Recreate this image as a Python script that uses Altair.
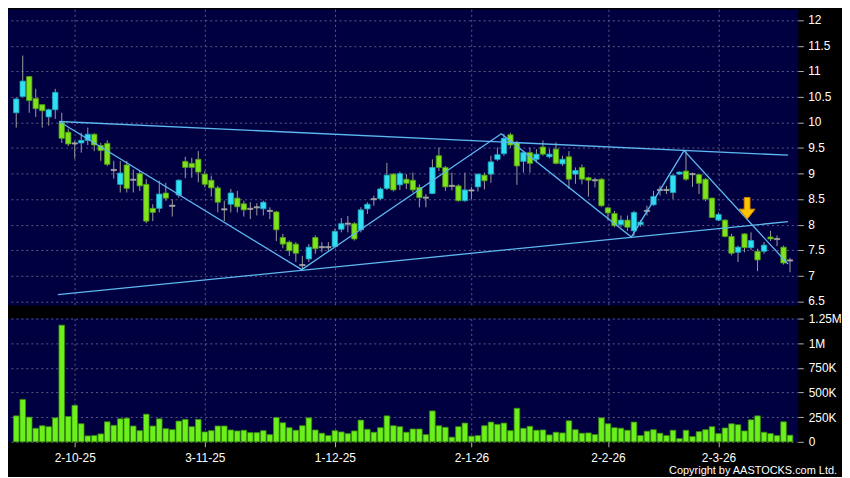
import altair as alt
import pandas as pd

# ---- data (index 1..120 = trading days) ----
opens = [10.19, 10.51, 10.90, 10.47, 10.35, 10.11, 10.25, 10.00, 9.81, 9.59,
         9.60, 9.65, 9.77, 9.55, 9.59, 9.07, 8.79, 9.17, 8.88, 9.00,
         8.79, 8.32, 8.32, 8.62, 8.37, 8.58, 9.24, 9.20, 9.28, 8.99,
         8.87, 8.72, 8.30, 8.40, 8.52, 8.41, 8.31, 8.34, 8.31, 8.27,
         8.25, 7.75, 7.66, 7.62, 7.21, 7.33, 7.75, 7.56, 7.56, 7.57,
         7.91, 8.02, 8.02, 7.90, 8.31, 8.50, 8.51, 8.71, 8.99, 8.78,
         8.89, 8.87, 8.73, 8.53, 8.61, 9.35, 9.12, 8.76, 8.76, 8.47,
         8.67, 8.74, 8.97, 8.99, 9.28, 9.39, 9.76, 9.61, 9.24, 9.41,
         9.28, 9.52, 9.33, 9.48, 9.19, 9.33, 8.99, 9.12, 8.92, 8.87,
         8.89, 8.33, 8.22, 8.00, 8.09, 7.88, 8.00, 8.27, 8.39, 8.68,
         8.68, 8.63, 8.99, 9.05, 8.99, 8.98, 8.89, 8.52, 8.09, 8.09,
         7.77, 7.46, 7.82, 7.55, 7.48, 7.48, 7.76, 7.72, 7.56, 7.30]
highs = [10.49, 11.31, 10.90, 10.66, 10.35, 10.27, 10.66, 10.19, 9.88, 9.64,
         9.80, 9.90, 9.79, 9.60, 9.65, 9.25, 9.25, 9.25, 9.08, 9.05,
         8.89, 8.40, 8.86, 8.82, 8.50, 8.89, 9.33, 9.31, 9.44, 9.05,
         8.96, 8.76, 8.47, 8.70, 8.66, 8.47, 8.44, 8.42, 8.47, 8.34,
         8.27, 7.82, 7.69, 7.66, 7.39, 7.62, 7.79, 7.66, 7.66, 7.92,
         8.13, 8.17, 8.05, 8.34, 8.44, 8.57, 8.73, 9.21, 9.01, 9.04,
         8.99, 9.02, 8.79, 8.60, 9.28, 9.51, 9.15, 9.02, 8.79, 9.02,
         8.74, 9.00, 9.02, 9.35, 9.51, 9.78, 9.80, 9.64, 9.44, 9.51,
         9.48, 9.65, 9.48, 9.61, 9.35, 9.44, 9.12, 9.18, 8.94, 8.92,
         8.91, 8.35, 8.27, 8.18, 8.18, 8.27, 8.09, 8.37, 8.66, 8.76,
         8.76, 8.99, 9.04, 9.46, 9.02, 8.99, 8.91, 8.53, 8.24, 8.11,
         7.82, 7.59, 7.83, 7.85, 7.53, 7.66, 7.88, 7.79, 7.59, 7.35]
lows = [9.90, 10.50, 10.19, 10.11, 9.90, 9.94, 10.07, 9.60, 9.54, 9.29,
        9.41, 9.56, 9.44, 9.25, 9.15, 8.90, 8.63, 8.63, 8.63, 8.66,
        8.03, 8.07, 8.24, 8.47, 8.16, 8.53, 8.91, 8.92, 8.83, 8.73,
        8.55, 8.24, 8.07, 8.24, 8.24, 8.16, 8.11, 8.18, 8.18, 8.11,
        7.68, 7.54, 7.39, 7.27, 7.12, 7.27, 7.43, 7.46, 7.47, 7.56,
        7.85, 7.85, 7.69, 7.85, 8.21, 8.37, 8.48, 8.68, 8.65, 8.68,
        8.70, 8.63, 8.34, 8.34, 8.60, 9.05, 8.66, 8.67, 8.45, 8.45,
        8.50, 8.65, 8.69, 8.82, 9.25, 9.35, 9.51, 8.78, 9.02, 9.02,
        9.22, 9.35, 9.30, 9.18, 9.15, 8.70, 8.80, 8.79, 8.55, 8.73,
        8.35, 8.08, 7.95, 7.95, 7.88, 7.78, 7.96, 8.18, 8.37, 8.57,
        8.60, 8.50, 8.98, 8.86, 8.74, 8.60, 8.46, 8.13, 8.07, 7.75,
        7.40, 7.27, 7.46, 7.50, 7.09, 7.43, 7.68, 7.58, 7.22, 7.07]
closes = [10.46, 10.81, 10.43, 10.27, 10.23, 10.25, 10.59, 9.69, 9.58, 9.59,
          9.65, 9.77, 9.56, 9.45, 9.18, 9.07, 9.01, 8.71, 8.88, 8.76,
          8.07, 8.24, 8.60, 8.52, 8.37, 8.87, 9.12, 9.12, 9.03, 8.79,
          8.72, 8.44, 8.30, 8.62, 8.35, 8.29, 8.31, 8.34, 8.44, 8.27,
          7.90, 7.62, 7.49, 7.44, 7.21, 7.56, 7.53, 7.56, 7.56, 7.87,
          8.02, 8.02, 7.72, 8.29, 8.40, 8.50, 8.70, 8.97, 8.68, 9.00,
          8.81, 8.68, 8.53, 8.53, 9.12, 9.12, 8.74, 8.76, 8.47, 8.68,
          8.67, 8.99, 8.86, 9.23, 9.37, 9.69, 9.56, 9.15, 9.41, 9.20,
          9.38, 9.38, 9.38, 9.20, 9.28, 8.89, 9.06, 8.89, 8.87, 8.87,
          8.37, 8.23, 7.98, 8.09, 7.95, 8.24, 8.05, 8.27, 8.55, 8.68,
          8.68, 8.96, 9.03, 8.89, 8.99, 8.81, 8.50, 8.14, 8.20, 7.77,
          7.44, 7.56, 7.55, 7.69, 7.31, 7.60, 7.72, 7.72, 7.25, 7.30]
volumes_k = [263, 430, 250, 137, 163, 153, 243, 1183, 257, 370,
             183, 60, 63, 80, 203, 167, 233, 240, 160, 113,
             280, 160, 233, 133, 123, 210, 227, 153, 227, 100,
             113, 160, 160, 120, 110, 117, 93, 93, 113, 73,
             247, 193, 143, 117, 163, 243, 120, 87, 63, 113,
             100, 83, 110, 220, 127, 97, 143, 263, 163, 153,
             97, 130, 130, 73, 313, 163, 147, 47, 153, 190,
             57, 63, 163, 200, 177, 190, 113, 340, 137, 157,
             117, 120, 70, 97, 90, 213, 123, 87, 90, 73,
             243, 183, 143, 137, 117, 200, 63, 107, 123, 87,
             63, 117, 33, 117, 53, 103, 123, 153, 83, 140,
             183, 173, 110, 223, 263, 97, 83, 63, 203, 67]

tick_index = [10, 30, 50, 71, 92, 109]
tick_labels = ["2-10-25", "3-11-25", "1-12-25", "2-1-26", "2-2-26", "2-3-26"]
price_ticks = [6.5, 7, 7.5, 8, 8.5, 9, 9.5, 10, 10.5, 11, 11.5, 12]
vol_ticks = [0, 250000, 500000, 750000, 1000000, 1250000]

# trend lines drawn on the chart (index, price)
upper_x = [7.6, 119.7]
upper_y = [10.02, 9.36]
lower_x = [7.4, 119.7]
lower_y = [6.63, 8.06]
zig_x = [7.6, 44.9, 75.6, 95.6, 103.7, 119.7]
zig_y = [10.02, 7.12, 9.78, 7.76, 9.45, 7.23]
arrow_x = [113.4]
arrow_y = [8.32]

copyright_text = "Copyright by AASTOCKS.com Ltd."

# ---- tables ----
n = len(opens)
rows = []
for k in range(n):
    o, c = opens[k], closes[k]
    if c > o:
        d = "up"
    elif c < o:
        d = "down"
    else:
        d = "flat"
    top = max(o, c) if d != "flat" else o + 0.011
    bot = min(o, c) if d != "flat" else o - 0.011
    rows.append({"i": k + 1, "open": o, "high": highs[k], "low": lows[k],
                 "close": c, "dir": d, "btop": top, "bbot": bot,
                 "vol": volumes_k[k] * 1000})
df = pd.DataFrame(rows)

lines = pd.DataFrame(
    [{"i": x, "p": y, "g": "upper"} for x, y in zip(upper_x, upper_y)]
    + [{"i": x, "p": y, "g": "lower"} for x, y in zip(lower_x, lower_y)]
    + [{"i": x, "p": y, "g": "zig"} for x, y in zip(zig_x, zig_y)]
)
arrow_df = pd.DataFrame({"i": arrow_x, "p": arrow_y})
ptick_df = pd.DataFrame({"p": price_ticks,
                         "lab": [("%g" % v) for v in price_ticks]})

# ---- scales / axes ----
W = 795
xs = alt.Scale(domain=[0.5, 120.5], nice=False, zero=False)
ys = alt.Scale(domain=[6.416, 12.214], nice=False, zero=False)
vs = alt.Scale(domain=[0, 1250000], nice=False, zero=True)

label_expr = ""
for idx, lab in zip(tick_index, tick_labels):
    label_expr += f"datum.value == {idx} ? '{lab}' : "
label_expr += "''"

grid_kw = dict(grid=True, gridColor="#5c5c84", gridDash=[2, 3], gridWidth=1)

x_axis_price = alt.Axis(values=tick_index, labels=False, ticks=False,
                        domain=False, title=None, **grid_kw)
y_axis_price = alt.Axis(orient="right", values=price_ticks, labels=False,
                        title=None, domain=False, tickSize=5, **grid_kw)
x_axis_vol = alt.Axis(values=tick_index, labelExpr=label_expr, title=None,
                      domain=False, tickSize=5, labelPadding=6, labelAngle=0,
                      labelOverlap=False, **grid_kw)
y_axis_vol = alt.Axis(orient="right", values=vol_ticks,
                      labelExpr="datum.value == 0 ? '0' : replace(format(datum.value, '~s'), 'k', 'K')",
                      title=None, domain=False, tickSize=5, labelPadding=5,
                      labelOverlap=False, **grid_kw)

color_scale = alt.Scale(domain=["up", "down", "flat"],
                        range=["#30dff0", "#7ee21c", "#a6a6a6"])
stroke_scale = alt.Scale(domain=["up", "down", "flat"],
                         range=["#1ba9c4", "#4f9c12", "#a6a6a6"])

PX = alt.X("i:Q", scale=xs, axis=x_axis_price)

base = alt.Chart(df)

wicks = base.mark_rule(color="#9c9c9c", strokeWidth=1).encode(
    x=PX,
    y=alt.Y("low:Q", scale=ys, axis=y_axis_price),
    y2="high:Q",
)
bodies = base.mark_bar(size=5.4, strokeWidth=0.8).encode(
    x=PX,
    y=alt.Y("btop:Q", scale=ys, axis=y_axis_price),
    y2="bbot:Q",
    color=alt.Color("dir:N", scale=color_scale, legend=None),
    stroke=alt.Stroke("dir:N", scale=stroke_scale, legend=None),
)
trend = alt.Chart(lines).mark_line(color="#5cb8f0", strokeWidth=1.3).encode(
    x=PX,
    y=alt.Y("p:Q", scale=ys, axis=y_axis_price),
    detail="g:N",
)
arrow = alt.Chart(arrow_df).mark_point(
    shape="M-0.36,-1.35L0.36,-1.35L0.36,0.1L1,0.1L0,1.35L-1,0.1L-0.36,0.1Z",
    size=256, filled=True, fill="#ffc400", stroke="#e08a00", strokeWidth=1,
    opacity=1,
).encode(x=PX, y=alt.Y("p:Q", scale=ys, axis=y_axis_price))

# price labels on the right, placed through the price scale
plabels = alt.Chart(ptick_df).mark_text(
    align="left", baseline="middle", color="#ffffff", fontSize=12,
    font="Liberation Sans",
).encode(x=alt.value(W + 10), y=alt.Y("p:Q", scale=ys, axis=y_axis_price),
         text="lab:N")

price = alt.layer(wicks, bodies, trend, arrow, plabels).properties(
    width=W, height=298)

vol_bars = base.mark_bar(size=5.6, color="#6cf01c", stroke="#3c8e10",
                         strokeWidth=0.8).encode(
    x=alt.X("i:Q", scale=xs, axis=x_axis_vol),
    y=alt.Y("vol:Q", scale=vs, axis=y_axis_vol),
)
copy_df = pd.DataFrame({"t": [copyright_text]})
copy_txt = alt.Chart(copy_df).mark_text(
    align="right", baseline="middle", color="#ffffff", fontSize=11,
    font="Liberation Sans",
).encode(text="t:N", x=alt.value(W + 39), y=alt.value(153))

volume = alt.layer(vol_bars, copy_txt).properties(width=W, height=124)

chart = alt.vconcat(price, volume, spacing=5).properties(
    padding={"left": 0, "top": 0, "right": 0, "bottom": 0},
    background="#000000",
).configure_view(fill="#000040", strokeWidth=0).configure_axis(
    labelColor="#ffffff", labelFont="Liberation Sans", labelFontSize=12,
    tickColor="#b4b4b4",
)

chart.save("out.html", embed_options={"renderer": "svg", "actions": False})
